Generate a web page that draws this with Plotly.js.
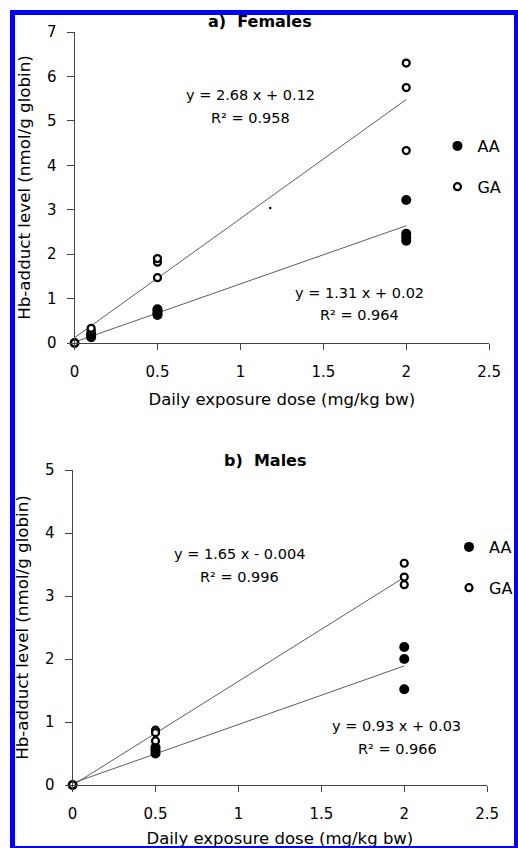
<!DOCTYPE html>
<html><head><meta charset="utf-8">
<script src="https://cdn.plot.ly/plotly-3.0.1.min.js"></script>
<style>
html,body{margin:0;padding:0;background:#fff;overflow:hidden}
#wrap{position:relative;width:518px;height:848px;overflow:hidden}
#chart{position:absolute;left:0;top:0;width:518px;height:848px}
#frame{position:absolute;left:10px;top:10px;width:509px;height:841px;box-sizing:border-box;border:5px solid #0000ff;pointer-events:none}
</style></head><body>
<div id="wrap"><div id="chart"></div><div id="frame"></div></div>
<script>
// ---- Panel a) Females ----
const femDoseAA = [0, 0.1, 0.1, 0.1, 0.5, 0.5, 0.5, 0.5, 2, 2, 2, 2];
const femAA     = [0, 0.13, 0.17, 0.21, 0.63, 0.67, 0.72, 0.76, 3.22, 2.46, 2.38, 2.30];
const femDoseGA = [0, 0.1, 0.1, 0.5, 0.5, 0.5, 2, 2, 2];
const femGA     = [0, 0.28, 0.33, 1.47, 1.82, 1.90, 6.30, 5.75, 4.33];
// ---- Panel b) Males ----
const maleDoseAA = [0, 0.5, 0.5, 0.5, 2, 2, 2];
const maleAA     = [0, 0.60, 0.55, 0.50, 2.19, 2.00, 1.52];
const maleDoseGA = [0, 0.5, 0.5, 0.5, 2, 2, 2];
const maleGA     = [0, 0.87, 0.83, 0.70, 3.52, 3.30, 3.18];
// stray dot visible in panel a
const strayDose = [1.18];
const strayVal  = [3.04];
// ---- regression fits: [slope, intercept] ----
const fitFemAA  = [1.31, 0.02];
const fitFemGA  = [2.68, 0.12];
const fitMaleAA = [0.93, 0.03];
const fitMaleGA = [1.65, -0.004];
const fitDose   = [0, 2];
// ---- texts ----
const seriesNames = ['AA', 'GA'];
const panelTitles = ['a)  Females', 'b)  Males'];
const eqFem  = ['y = 2.68 x + 0.12', 'R² = 0.958', 'y = 1.31 x + 0.02', 'R² = 0.964'];
const eqMale = ['y = 1.65 x - 0.004', 'R² = 0.996', 'y = 0.93 x + 0.03', 'R² = 0.966'];
const xTitle = 'Daily exposure dose (mg/kg bw)';
const yTitle = 'Hb-adduct level (nmol/g globin)';
const xTicks = [0, 0.5, 1, 1.5, 2, 2.5];
const xTickText = ['0', '0.5', '1', '1.5', '2', '2.5'];
const yTicksFem = [0, 1, 2, 3, 4, 5, 6, 7];
const yTicksMale = [0, 1, 2, 3, 4, 5];

const FONT = 'DejaVu Sans, Arial, sans-serif';
const W = 518, H = 848;
const px = x => x / W;
const py = y => 1 - y / H;

function fitLine(fit, xa, ya) {
  return {x: fitDose, y: fitDose.map(d => fit[0] * d + fit[1]), xaxis: xa, yaxis: ya,
    mode: 'lines', line: {color: '#333', width: 0.8}, showlegend: false, hoverinfo: 'skip'};
}
const filled = {symbol: 'circle', size: 10, color: '#000', line: {width: 0}};
const open = {symbol: 'circle', size: 7, color: '#fff', line: {color: '#000', width: 2.2}};

const data = [
  fitLine(fitFemGA, 'x', 'y'), fitLine(fitFemAA, 'x', 'y'),
  fitLine(fitMaleGA, 'x2', 'y2'), fitLine(fitMaleAA, 'x2', 'y2'),
  {x: femDoseAA, y: femAA, name: seriesNames[0], mode: 'markers', marker: filled, xaxis: 'x', yaxis: 'y', legend: 'legend', legendgroup: 'a1', cliponaxis: false},
  {x: femDoseGA, y: femGA, name: seriesNames[1], mode: 'markers', marker: open, xaxis: 'x', yaxis: 'y', legend: 'legend', legendgroup: 'a2', cliponaxis: false},
  {x: strayDose, y: strayVal, mode: 'markers', marker: {size: 2.5, color: '#000'}, xaxis: 'x', yaxis: 'y', showlegend: false},
  {x: maleDoseAA, y: maleAA, name: seriesNames[0], mode: 'markers', marker: filled, xaxis: 'x2', yaxis: 'y2', legend: 'legend2', legendgroup: 'b1', cliponaxis: false},
  {x: maleDoseGA, y: maleGA, name: seriesNames[1], mode: 'markers', marker: open, xaxis: 'x2', yaxis: 'y2', legend: 'legend2', legendgroup: 'b2', cliponaxis: false}
];

function xAxis(domain, anchor) {
  return {domain: domain, anchor: anchor, range: [0, 2.5], tickvals: xTicks, ticktext: xTickText,
    showgrid: false, zeroline: false, showline: true, linecolor: '#444', linewidth: 1,
    ticks: 'outside', ticklen: 6, tickcolor: '#444', tickfont: {family: FONT, size: 15, color: '#000'},
    ticklabelstandoff: 9,
    title: {text: xTitle, font: {family: FONT, size: 16.5, color: '#000'}, standoff: 13}, fixedrange: true};
}
function yAxis(domain, anchor, maxv, ticks) {
  return {domain: domain, anchor: anchor, range: [0, maxv], tickvals: ticks,
    showgrid: false, zeroline: false, showline: true, linecolor: '#444', linewidth: 1,
    ticks: 'outside', ticklen: 7, tickcolor: '#444', tickfont: {family: FONT, size: 15, color: '#000'},
    ticklabelstandoff: 7,
    title: {text: yTitle, font: {family: FONT, size: 16.7, color: '#000'}, standoff: 12}, fixedrange: true};
}

function ann(text, x, y, size, bold) {
  return {text: bold ? '<b>' + text + '</b>' : text, xref: 'paper', yref: 'paper', x: px(x), y: py(y),
    xanchor: 'center', yanchor: 'middle', showarrow: false, font: {family: FONT, size: size, color: '#000'}};
}

const legendBase = {bgcolor: 'rgba(0,0,0,0)', borderwidth: 0, xanchor: 'left', yanchor: 'top',
  font: {family: FONT, size: 16, color: '#000'}, traceorder: 'grouped', tracegroupgap: 17, itemwidth: 30};

const layout = {
  width: W, height: H, margin: {l: 0, r: 0, t: 0, b: 0},
  paper_bgcolor: '#fff', plot_bgcolor: '#fff', showlegend: true,
  xaxis: xAxis([px(75), px(492)], 'y'),
  yaxis: yAxis([py(343), py(32)], 'x', 7, yTicksFem),
  xaxis2: xAxis([px(73), px(490)], 'y2'),
  yaxis2: yAxis([py(785), py(470)], 'x2', 5, yTicksMale),
  legend: Object.assign({}, legendBase, {x: px(440), y: py(129)}),
  legend2: Object.assign({}, legendBase, {x: px(452), y: py(530)}),
  annotations: [
    ann(panelTitles[0], 262, 22, 16, true),
    ann(panelTitles[1], 267, 460, 16, true),
    ann(eqFem[0], 252, 95, 14.5), ann(eqFem[1], 252, 118, 14.5),
    ann(eqFem[2], 362, 293, 14.5), ann(eqFem[3], 362, 315, 14.5),
    ann(eqMale[0], 241, 554, 14.5), ann(eqMale[1], 241, 577, 14.5),
    ann(eqMale[2], 399, 726, 14.5), ann(eqMale[3], 400, 749, 14.5)
  ]
};

Plotly.newPlot('chart', data, layout, {displayModeBar: false, staticPlot: true});
</script>
</body></html>
